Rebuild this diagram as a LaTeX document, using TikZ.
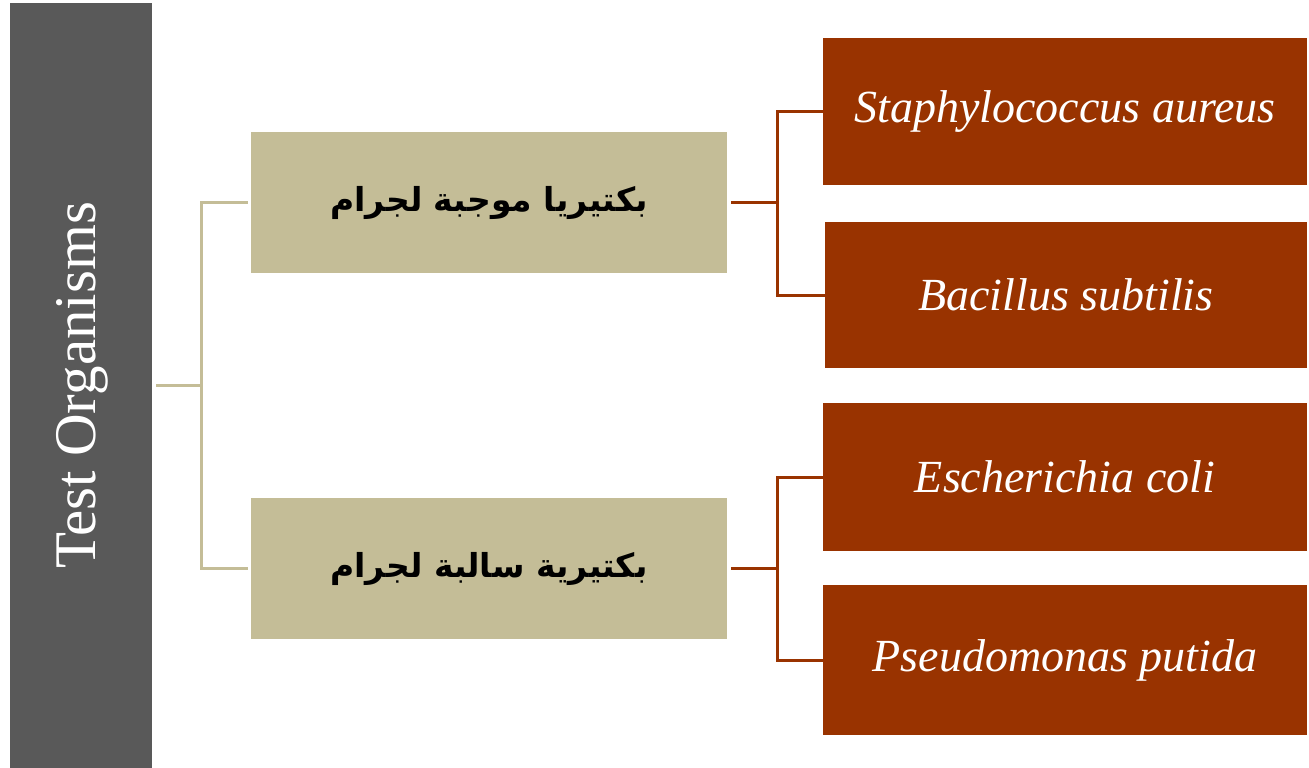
\documentclass[tikz,border=0pt]{standalone}
\usepackage{fontspec}
\setmainfont{Liberation Serif}
\newfontfamily\arabicfont[Script=Arabic]{DejaVu Sans}
\TeXXeTstate=1
\definecolor{bargray}{HTML}{595959}
\definecolor{beige}{HTML}{C4BD97}
\definecolor{rust}{HTML}{993300}
\begin{document}
\begin{tikzpicture}[x=1pt,y=-1pt,
  box/.style={rectangle,inner sep=0pt,outer sep=0pt},
  sidebar/.style={box,fill=bargray,text=white,minimum width=142pt,minimum height=765pt},
  group/.style={box,fill=beige,text=black,minimum width=476pt,minimum height=141pt,font=\arabicfont\bfseries\fontsize{33}{39}\selectfont},
  leaf/.style={box,fill=rust,text=white,minimum width=484pt,minimum height=147pt,font=\itshape\fontsize{46}{52}\selectfont},
  bl/.style={draw=beige,line width=3pt},
  rl/.style={draw=rust,line width=3pt}]
\useasboundingbox (0,0) rectangle (1309,768);
\node[sidebar] (bar) at (81,385.5) {};
\node[rotate=90,text=white,font=\fontsize{59}{65}\selectfont] (title) at (82,385.5) {Test Organisms};
\node[group] (pos) at (489,202.5) {\beginR بكتيريا موجبة لجرام\endR};
\node[group] (neg) at (489,568.5) {\beginR بكتيرية سالبة لجرام\endR};
\node[leaf] (staph) at (1065,111.5) {Staphylococcus aureus};
\node[leaf,minimum width=482pt,minimum height=146pt] (bac) at (1066,295) {Bacillus subtilis};
\node[leaf,minimum height=148pt] (ecoli) at (1065,477) {Escherichia coli};
\node[leaf,minimum height=150pt] (pseudo) at (1065,660) {Pseudomonas putida};
\draw[bl,shorten <=4pt,shorten >=3pt] (bar.east) -- ++(49,0) |- (pos.west);
\draw[bl,shorten <=4pt,shorten >=3pt] (bar.east) -- ++(49,0) |- (neg.west);
\draw[rl,shorten <=4pt] (pos.east) -- ++(50,0) |- (staph.west);
\draw[rl,shorten <=4pt] (pos.east) -- ++(50,0) |- (bac.west);
\draw[rl,shorten <=4pt] (neg.east) -- ++(50,0) |- (ecoli.west);
\draw[rl,shorten <=4pt] (neg.east) -- ++(50,0) |- (pseudo.west);
\end{tikzpicture}
\end{document}
